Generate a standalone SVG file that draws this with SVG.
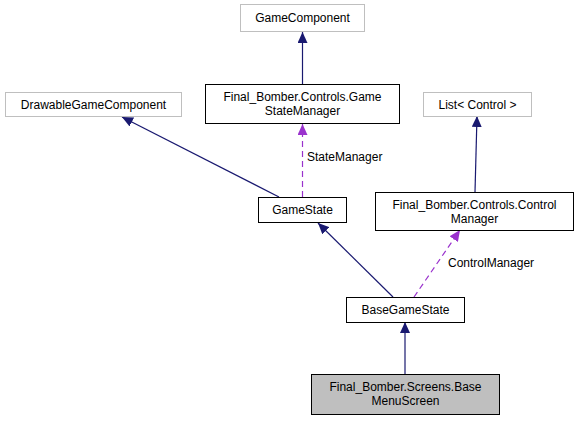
<svg xmlns="http://www.w3.org/2000/svg" width="579" height="421" viewBox="0 0 579 421">
<style>
text{font-family:"Liberation Sans",Arial,sans-serif;font-size:12px;fill:#000}
.n{fill:#fff;stroke:#000;stroke-width:1}
.x{fill:#fff;stroke:#bfbfbf;stroke-width:1}
.cur{fill:#bfbfbf;stroke:#000;stroke-width:1}
.inh{stroke:#191970;stroke-width:1.2;fill:none;marker-end:url(#ah)}
.use{stroke:#9a32cd;stroke-width:1.2;fill:none;stroke-dasharray:6,4;marker-end:url(#ap)}
.c{text-anchor:middle}
</style>
<defs>
<marker id="ah" markerUnits="userSpaceOnUse" viewBox="0 0 11 10" refX="11" refY="5" markerWidth="11" markerHeight="10" orient="auto"><path d="M0,0 L11,5 L0,10 z" fill="#191970"/></marker>
<marker id="ap" markerUnits="userSpaceOnUse" viewBox="0 0 11 10" refX="11" refY="5" markerWidth="11" markerHeight="10" orient="auto"><path d="M0,0 L11,5 L0,10 z" fill="#9a32cd"/></marker>
</defs>
<rect width="579" height="421" fill="#fff"/>
<g id="edges">
<line class="inh" x1="302.5" y1="84" x2="302.5" y2="32"/>
<line class="inh" x1="279" y1="197" x2="122" y2="117"/>
<line class="use" x1="302.5" y1="197" x2="302.5" y2="124"/>
<line class="inh" x1="475" y1="192" x2="477" y2="116"/>
<line class="inh" x1="393" y1="297" x2="318" y2="223"/>
<line class="use" x1="414" y1="297" x2="460" y2="230"/>
<line class="inh" x1="405" y1="374" x2="405" y2="322"/>
<text x="307" y="161">StateManager</text>
<text x="448" y="267">ControlManager</text>
</g>
<g id="GameComponent"><rect class="x" x="240.5" y="4.5" width="124" height="27"/><text class="c" x="302.5" y="22">GameComponent</text></g>
<g id="GameStateManager"><rect class="n" x="205.5" y="84.5" width="194" height="39"/><text class="c" x="302.5" y="101">Final_Bomber.Controls.Game</text><text class="c" x="302.5" y="115">StateManager</text></g>
<g id="DrawableGameComponent"><rect class="x" x="5.5" y="92.5" width="176" height="24"/><text class="c" x="93.5" y="108.5">DrawableGameComponent</text></g>
<g id="ListControl"><rect class="x" x="423.5" y="92.5" width="108" height="24"/><text class="c" x="477.5" y="108.5">List&lt; Control &gt;</text></g>
<g id="GameState"><rect class="n" x="258.5" y="197.5" width="88" height="25"/><text class="c" x="302.5" y="214">GameState</text></g>
<g id="ControlManager"><rect class="n" x="375.5" y="192.5" width="198" height="38"/><text class="c" x="474.5" y="208.5">Final_Bomber.Controls.Control</text><text class="c" x="474.5" y="222.5">Manager</text></g>
<g id="BaseGameState"><rect class="n" x="346.5" y="297.5" width="118" height="25"/><text class="c" x="405.5" y="314">BaseGameState</text></g>
<g id="BaseMenuScreen"><rect class="cur" x="311.5" y="374.5" width="188" height="40"/><text class="c" x="405.5" y="391">Final_Bomber.Screens.Base</text><text class="c" x="405.5" y="405">MenuScreen</text></g>
</svg>
